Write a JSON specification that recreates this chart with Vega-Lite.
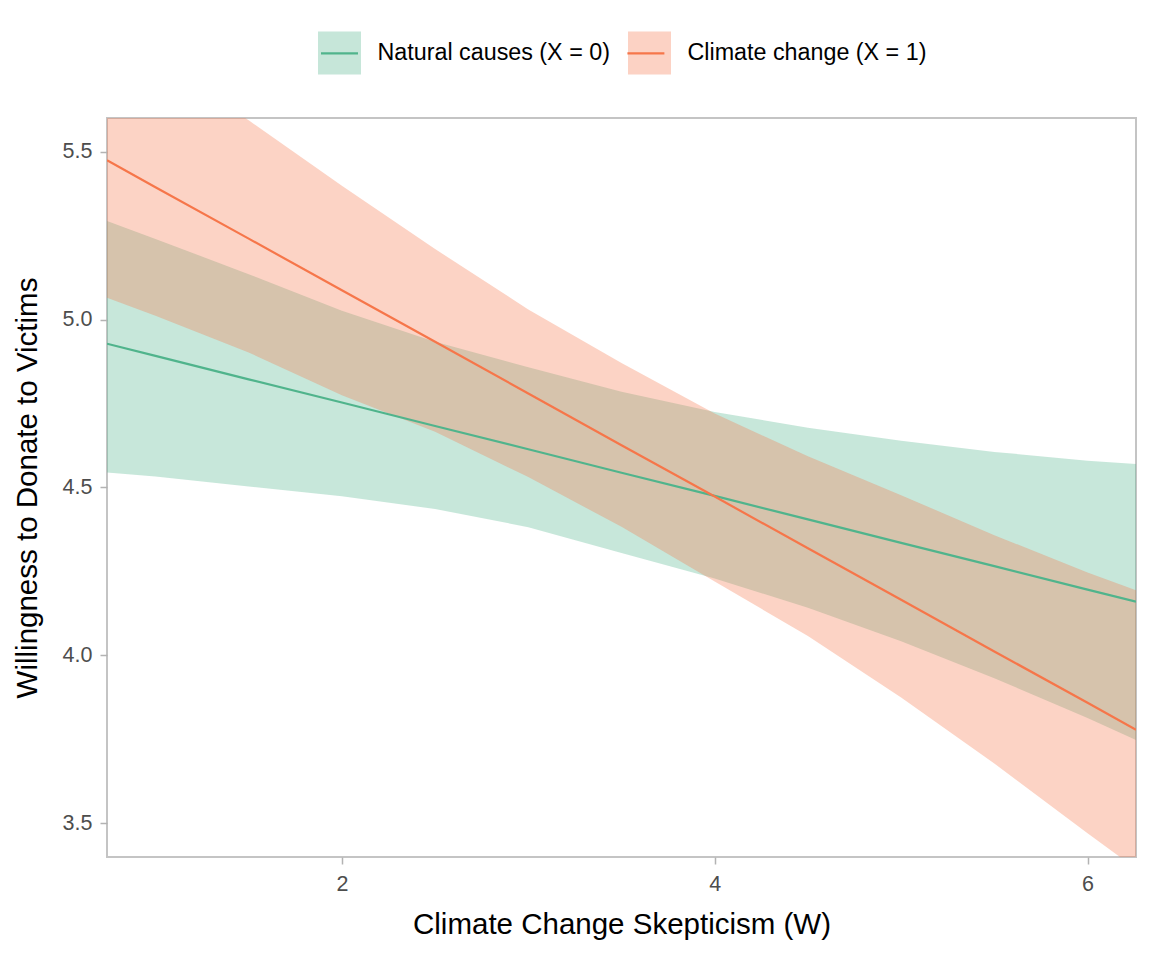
{
  "$schema": "https://vega.github.io/schema/vega-lite/v6.json",
  "width": 1029,
  "height": 739,
  "autosize": "none",
  "padding": {"left": 107, "top": 118, "right": 16, "bottom": 103},
  "background": "white",
  "config": {
    "font": "Liberation Sans",
    "view": {"stroke": "#c4c4c4", "strokeWidth": 2},
    "axis": {
      "domain": false,
      "grid": false,
      "ticks": true,
      "tickColor": "#b3b3b3",
      "tickSize": 7,
      "tickWidth": 1.5,
      "labelColor": "#4d4d4d",
      "labelFontSize": 21.5,
      "labelFont": "Liberation Sans",
      "titleFont": "Liberation Sans",
      "titleFontSize": 29.5,
      "titleFontWeight": "normal",
      "titleColor": "black"
    }
  },
  "data": {
    "values": [
      {"W": 0.74, "group": "Natural causes (X = 0)", "lo": 4.545, "hi": 5.293, "fit": 4.928},
      {"W": 1.0, "group": "Natural causes (X = 0)", "lo": 4.533, "hi": 5.240, "fit": 4.892},
      {"W": 1.5, "group": "Natural causes (X = 0)", "lo": 4.503, "hi": 5.135, "fit": 4.822},
      {"W": 2.0, "group": "Natural causes (X = 0)", "lo": 4.474, "hi": 5.026, "fit": 4.753},
      {"W": 2.5, "group": "Natural causes (X = 0)", "lo": 4.436, "hi": 4.934, "fit": 4.683},
      {"W": 3.0, "group": "Natural causes (X = 0)", "lo": 4.382, "hi": 4.858, "fit": 4.614},
      {"W": 3.5, "group": "Natural causes (X = 0)", "lo": 4.305, "hi": 4.785, "fit": 4.544},
      {"W": 4.0, "group": "Natural causes (X = 0)", "lo": 4.229, "hi": 4.725, "fit": 4.475},
      {"W": 4.5, "group": "Natural causes (X = 0)", "lo": 4.142, "hi": 4.678, "fit": 4.405},
      {"W": 5.0, "group": "Natural causes (X = 0)", "lo": 4.042, "hi": 4.639, "fit": 4.335},
      {"W": 5.5, "group": "Natural causes (X = 0)", "lo": 3.932, "hi": 4.606, "fit": 4.266},
      {"W": 6.0, "group": "Natural causes (X = 0)", "lo": 3.814, "hi": 4.580, "fit": 4.196},
      {"W": 6.26, "group": "Natural causes (X = 0)", "lo": 3.748, "hi": 4.570, "fit": 4.160},
      {"W": 0.74, "group": "Climate change (X = 1)", "lo": 5.065, "hi": 5.900, "fit": 5.474},
      {"W": 1.0, "group": "Climate change (X = 1)", "lo": 5.011, "hi": 5.780, "fit": 5.394},
      {"W": 1.5, "group": "Climate change (X = 1)", "lo": 4.902, "hi": 5.593, "fit": 5.241},
      {"W": 2.0, "group": "Climate change (X = 1)", "lo": 4.775, "hi": 5.398, "fit": 5.087},
      {"W": 2.5, "group": "Climate change (X = 1)", "lo": 4.666, "hi": 5.210, "fit": 4.934},
      {"W": 3.0, "group": "Climate change (X = 1)", "lo": 4.531, "hi": 5.030, "fit": 4.780},
      {"W": 3.5, "group": "Climate change (X = 1)", "lo": 4.383, "hi": 4.871, "fit": 4.626},
      {"W": 4.0, "group": "Climate change (X = 1)", "lo": 4.220, "hi": 4.720, "fit": 4.473},
      {"W": 4.5, "group": "Climate change (X = 1)", "lo": 4.058, "hi": 4.593, "fit": 4.319},
      {"W": 5.0, "group": "Climate change (X = 1)", "lo": 3.875, "hi": 4.477, "fit": 4.166},
      {"W": 5.5, "group": "Climate change (X = 1)", "lo": 3.678, "hi": 4.358, "fit": 4.012},
      {"W": 6.0, "group": "Climate change (X = 1)", "lo": 3.471, "hi": 4.247, "fit": 3.859},
      {"W": 6.26, "group": "Climate change (X = 1)", "lo": 3.365, "hi": 4.194, "fit": 3.779}
    ]
  },
  "layer": [
    {
      "mark": {"type": "area", "opacity": 0.32, "clip": true},
      "encoding": {
        "x": {
          "field": "W",
          "type": "quantitative",
          "scale": {"domain": [0.74, 6.26], "nice": false, "zero": false},
          "axis": {"values": [2, 4, 6], "format": "d", "labelPadding": 9, "titlePadding": 16, "title": "Climate Change Skepticism (W)"}
        },
        "y": {
          "field": "lo",
          "type": "quantitative",
          "scale": {"domain": [3.4, 5.6], "nice": false, "zero": false},
          "axis": {"values": [3.5, 4, 4.5, 5, 5.5], "format": ".1f", "labelPadding": 8, "titlePadding": 20, "title": "Willingness to Donate to Victims"}
        },
        "y2": {"field": "hi"},
        "fill": {
          "field": "group",
          "type": "nominal",
          "scale": {"domain": ["Natural causes (X = 0)", "Climate change (X = 1)"], "range": ["#50b48c", "#f6764a"]},
          "legend": {
            "orient": "none",
            "legendX": 209.5,
            "legendY": -88,
            "direction": "horizontal",
            "title": null,
            "padding": 0,
            "symbolType": "square",
            "symbolSize": 1849,
            "symbolStrokeWidth": 2.2,
            "symbolStrokeColor": "transparent",
            "symbolOpacity": 0.32,
            "labelFontSize": 23.3,
            "labelFont": "Liberation Sans",
            "labelColor": "black",
            "labelLimit": 500,
            "labelOffset": 15,
            "columnPadding": 13
          }
        }
      }
    },
    {
      "mark": {"type": "line", "strokeWidth": 2.2, "clip": true},
      "encoding": {
        "x": {"field": "W", "type": "quantitative"},
        "y": {"field": "fit", "type": "quantitative", "title": "Willingness to Donate to Victims"},
        "stroke": {
          "field": "group",
          "type": "nominal",
          "sort": "descending",
          "scale": {"range": ["#50b48c", "#f6764a"]},
          "legend": {
            "orient": "none",
            "legendX": 209.5,
            "legendY": -88,
            "direction": "horizontal",
            "title": null,
            "padding": 0,
            "symbolType": "M-0.86,0H0.86",
            "symbolSize": 1849,
            "symbolStrokeWidth": 2.2,
            "symbolFillColor": "transparent",
            "labelExpr": "''",
            "labelFontSize": 23.3,
            "labelOffset": 0,
            "columnPadding": 260.4
          }
        }
      }
    }
  ]
}
